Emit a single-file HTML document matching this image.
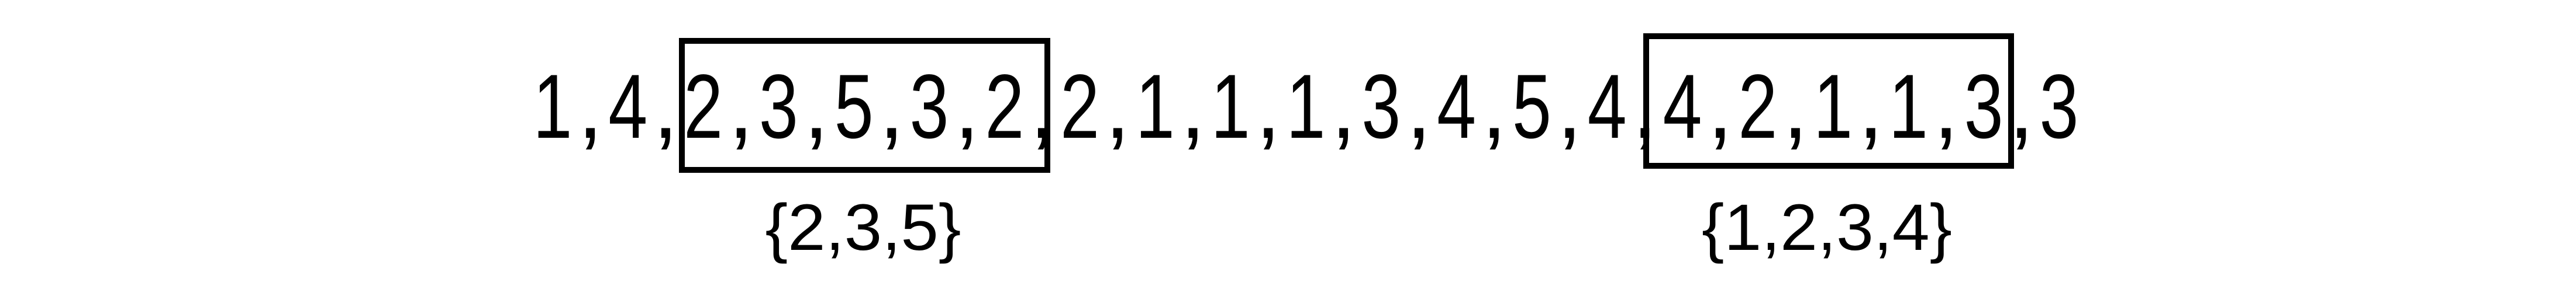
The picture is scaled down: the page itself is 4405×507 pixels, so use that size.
<!DOCTYPE html>
<html><head><meta charset="utf-8"><style>
html,body{margin:0;padding:0;background:#fff;width:4405px;height:507px;overflow:hidden}
svg{display:block}
text{font-family:"Liberation Sans",sans-serif;fill:#000}
</style></head><body>
<svg id="s" width="4405" height="507" viewBox="0 0 4405 507">
<rect x="1166" y="70" width="625" height="221" fill="none" stroke="#000" stroke-width="10"/>
<rect x="2815" y="62" width="624" height="222" fill="none" stroke="#000" stroke-width="10"/>
<text x="1476" y="428" font-size="112" text-anchor="middle" textLength="335" lengthAdjust="spacingAndGlyphs">{2,3,5}</text>
<text x="3124" y="428" font-size="112" text-anchor="middle" textLength="428" lengthAdjust="spacingAndGlyphs">{1,2,3,4}</text>
</svg>
<script>
const sequence = [1,4,2,3,5,3,2,2,1,1,1,3,4,5,4,4,2,1,1,3,3];
const svg = document.getElementById('s');
const NS = 'http://www.w3.org/2000/svg';
const x0 = 945, pitch = 128.8, base = 236, dw = 67;
sequence.forEach((v, i) => {
  const t = document.createElementNS(NS, 'text');
  t.setAttribute('x', x0 + i * pitch - dw / 2);
  t.setAttribute('y', base);
  t.setAttribute('font-size', '156');
  t.setAttribute('textLength', dw);
  t.setAttribute('lengthAdjust', 'spacingAndGlyphs');
  t.textContent = String(v);
  
  
  svg.appendChild(t);
  if (i < sequence.length - 1) {
    const c = document.createElementNS(NS, 'text');
    c.setAttribute('x', x0 + i * pitch + pitch / 2);
    c.setAttribute('y', base);
    c.setAttribute('font-size', '156');
    c.setAttribute('text-anchor', 'middle');
    c.textContent = ',';
    
    
    svg.appendChild(c);
  }
});
</script>
</body></html>
